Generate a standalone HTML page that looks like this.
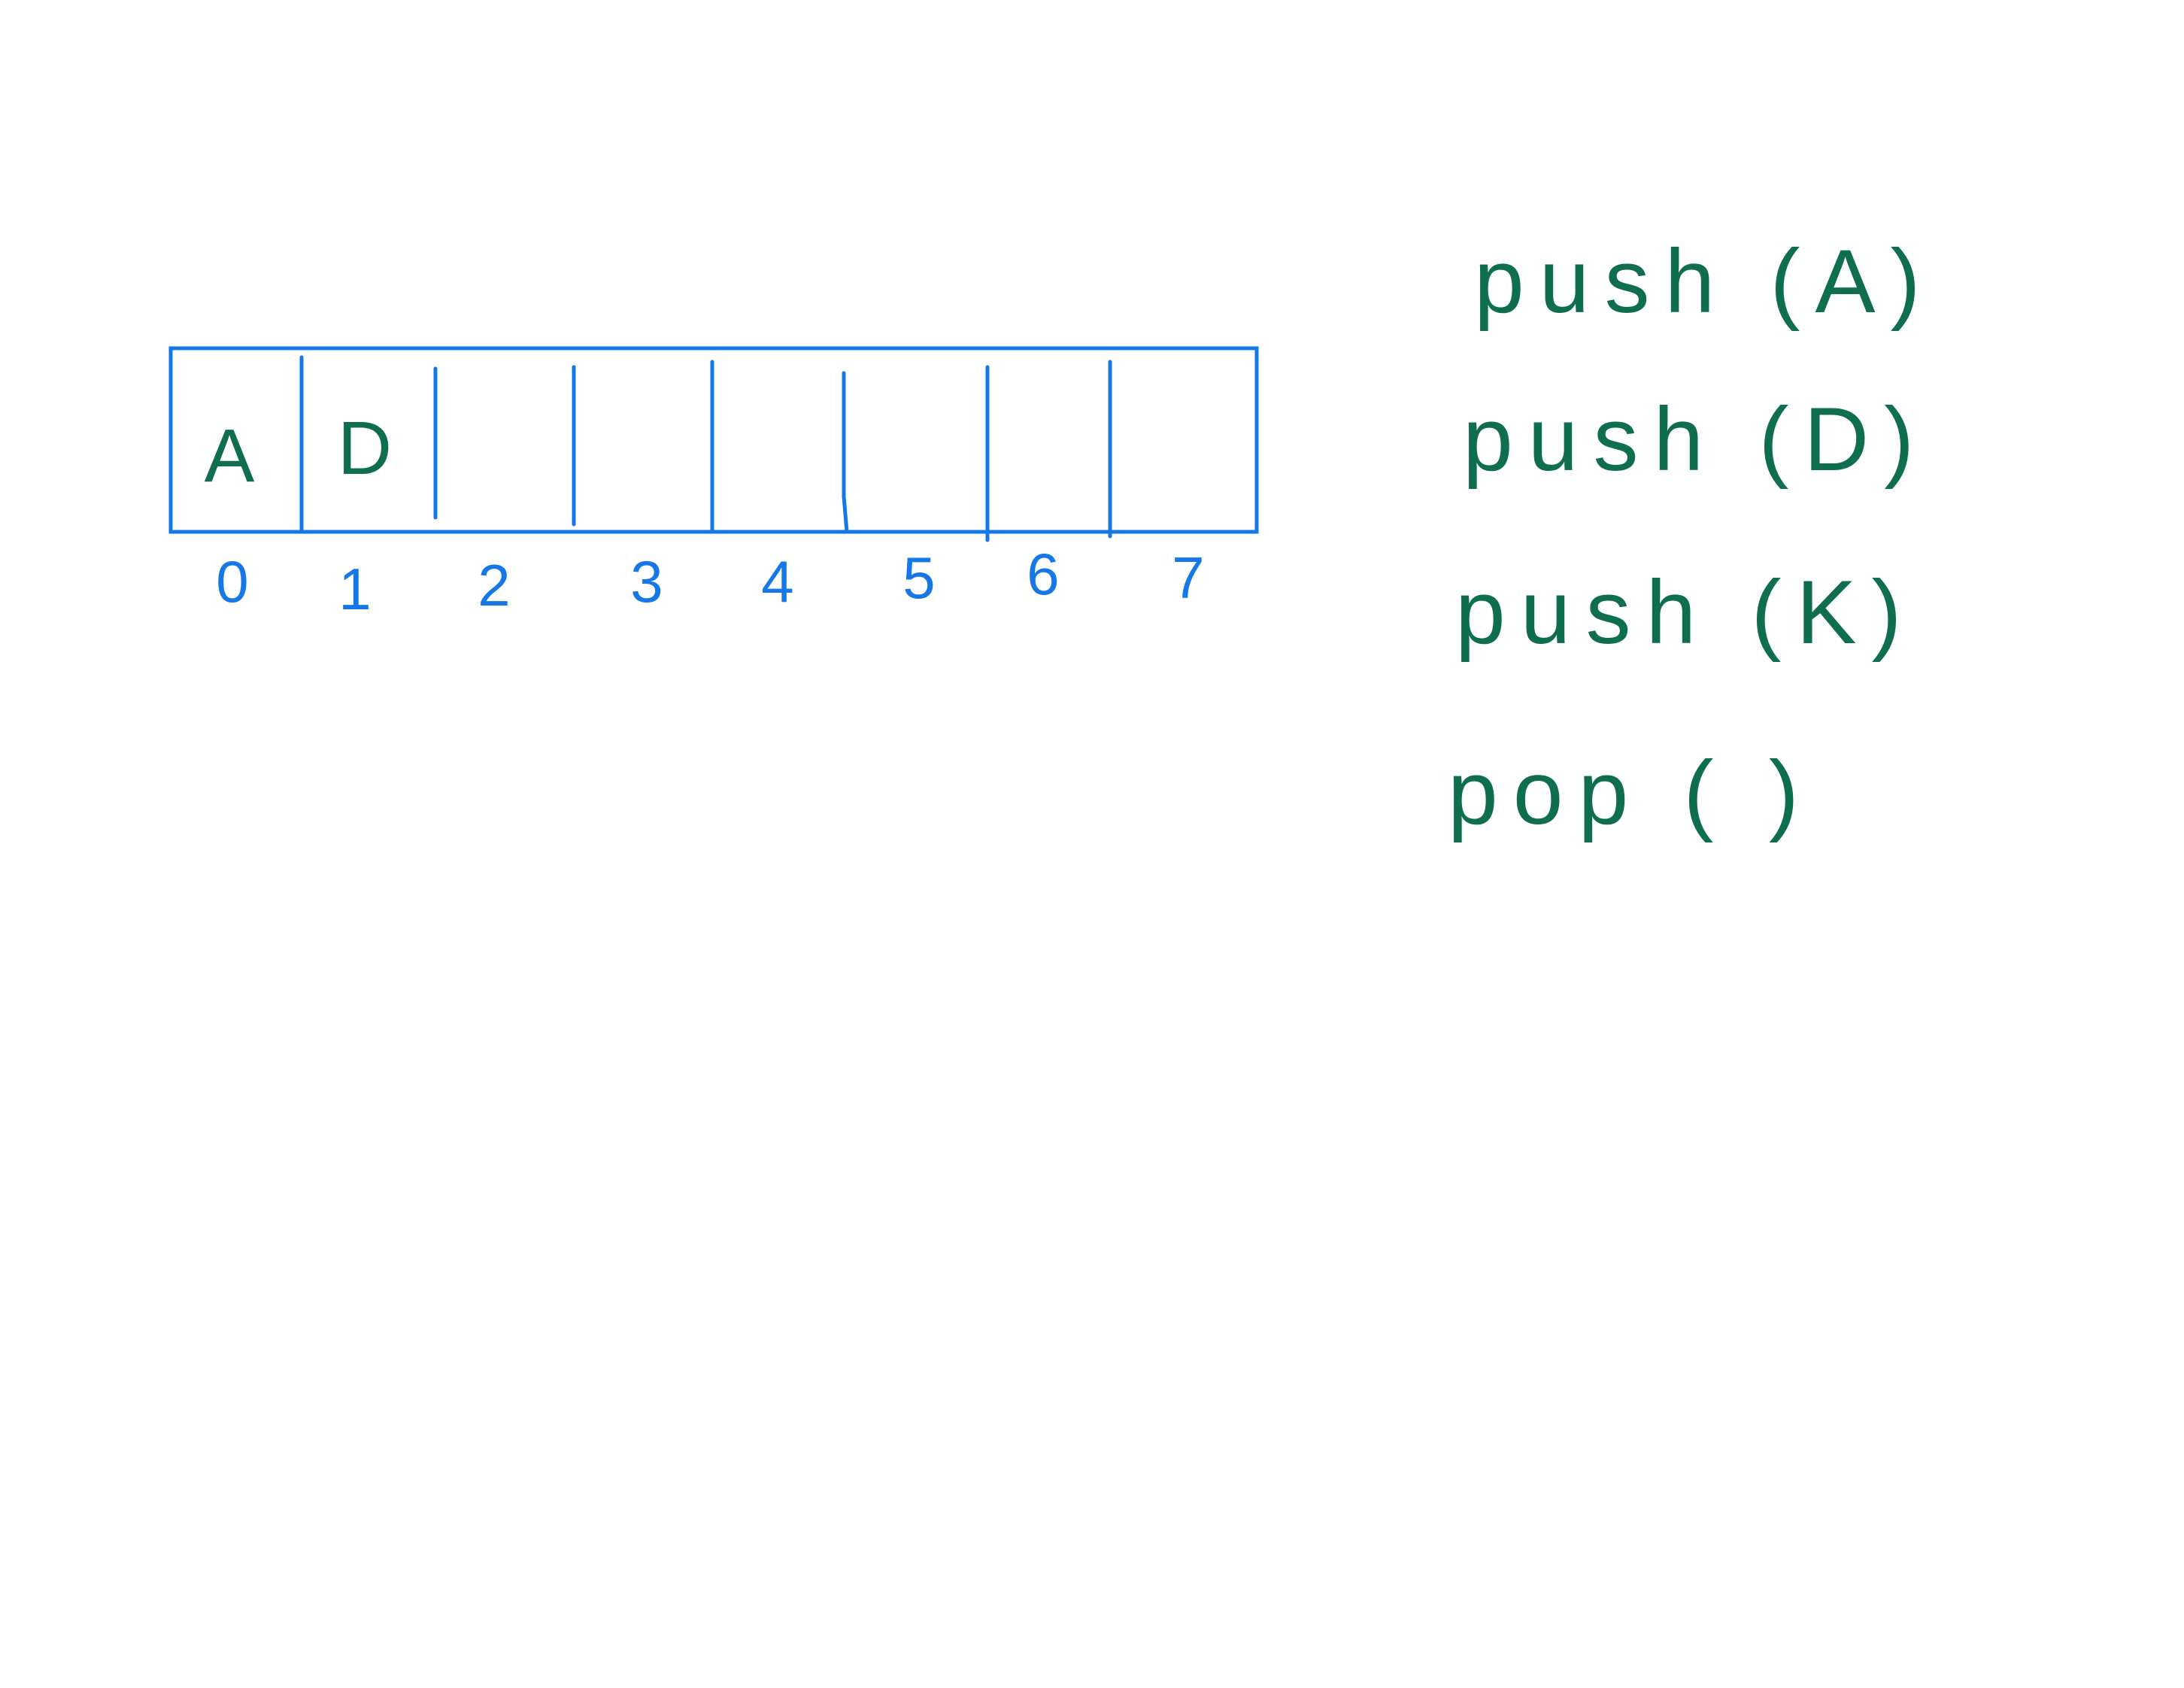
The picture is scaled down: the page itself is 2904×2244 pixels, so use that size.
<!DOCTYPE html>
<html><head><meta charset="utf-8"><style>html,body{margin:0;padding:0;background:#fff}svg{display:block}</style></head>
<body>
<svg width="2904" height="2244" viewBox="0 0 2904 2244" xmlns="http://www.w3.org/2000/svg">
<g stroke="#1677e6" stroke-width="5" fill="none" stroke-linecap="round">
<rect x="227" y="463" width="1444" height="244"/>
<line x1="401" y1="475" x2="401" y2="707"/>
<line x1="579" y1="490" x2="579" y2="688"/>
<line x1="763" y1="488" x2="763" y2="697"/>
<line x1="947" y1="481" x2="947" y2="707"/>
<path d="M1122 496 L1122 660 L1126 707"/>
<line x1="1313" y1="488" x2="1313" y2="718"/>
<line x1="1476" y1="481" x2="1476" y2="713"/>
</g>
<g fill="#1677e6" font-family="Liberation Sans, sans-serif" font-size="78" text-anchor="middle">
<text x="309" y="800">0</text><text x="472" y="810">1</text><text x="657" y="805">2</text>
<text x="860" y="800">3</text><text x="1034" y="800">4</text><text x="1222" y="795">5</text>
<text x="1387" y="790">6</text><text x="1580" y="795">7</text>
</g>
<g fill="#0e6e4e" font-family="Liberation Sans, sans-serif" font-size="100" text-anchor="middle">
<text x="305" y="640">A</text><text x="485" y="630">D</text>
</g>
<g fill="#0e6e4e" font-family="Liberation Sans, sans-serif" font-size="120" letter-spacing="20">
<text x="1960" y="415">push (A)</text>
<text x="1945" y="625">push (D)</text>
<text x="1935" y="855">push (K)</text>
<text x="1925" y="1095">pop ( )</text>
</g>
</svg>
</body></html>
